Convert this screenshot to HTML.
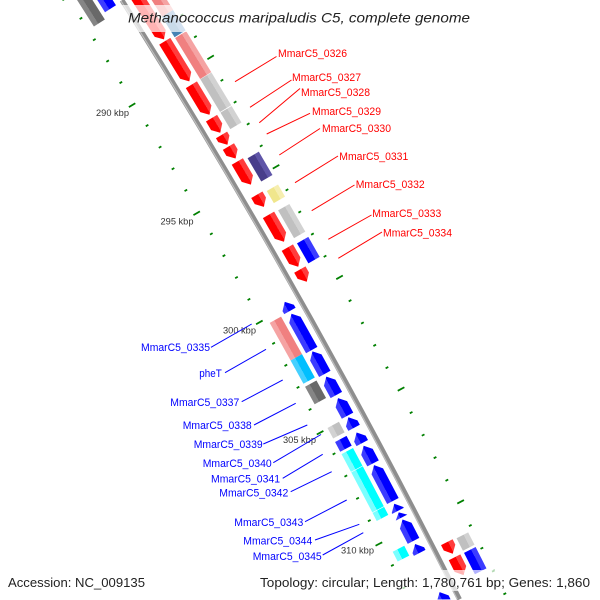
<!DOCTYPE html>
<html><head><meta charset="utf-8"><style>html,body{margin:0;padding:0;background:#fff;width:600px;height:600px;overflow:hidden}svg{display:block;overflow:hidden}</style></head>
<body>
<svg width="600" height="600" viewBox="0 0 600 600" xmlns="http://www.w3.org/2000/svg">
<defs>
<linearGradient id="fR" gradientUnits="userSpaceOnUse" x1="0" y1="-7204" x2="0" y2="-7191"><stop offset="0" stop-color="#ff3c3c"/><stop offset=".4" stop-color="#ff3c3c"/><stop offset=".4" stop-color="#f00"/><stop offset="1" stop-color="#f00"/></linearGradient>
<linearGradient id="rB" gradientUnits="userSpaceOnUse" x1="0" y1="-7162" x2="0" y2="-7175"><stop offset="0" stop-color="#3c3cff"/><stop offset=".4" stop-color="#3c3cff"/><stop offset=".4" stop-color="#00f"/><stop offset="1" stop-color="#00f"/></linearGradient>
<linearGradient id="oP" gradientUnits="userSpaceOnUse" x1="0" y1="-7221" x2="0" y2="-7208"><stop offset="0" stop-color="#f5a3a3"/><stop offset=".4" stop-color="#f5a3a3"/><stop offset=".4" stop-color="#f08080"/><stop offset="1" stop-color="#f08080"/></linearGradient>
<linearGradient id="oS" gradientUnits="userSpaceOnUse" x1="0" y1="-7221" x2="0" y2="-7208"><stop offset="0" stop-color="#6b9ccb"/><stop offset=".4" stop-color="#6b9ccb"/><stop offset=".4" stop-color="#4682b4"/><stop offset="1" stop-color="#4682b4"/></linearGradient>
<linearGradient id="oG" gradientUnits="userSpaceOnUse" x1="0" y1="-7221" x2="0" y2="-7208"><stop offset="0" stop-color="#d2d2d2"/><stop offset=".4" stop-color="#d2d2d2"/><stop offset=".4" stop-color="#c0c0c0"/><stop offset="1" stop-color="#c0c0c0"/></linearGradient>
<linearGradient id="oN" gradientUnits="userSpaceOnUse" x1="0" y1="-7221" x2="0" y2="-7208"><stop offset="0" stop-color="#5f55a8"/><stop offset=".4" stop-color="#5f55a8"/><stop offset=".4" stop-color="#483d8b"/><stop offset="1" stop-color="#483d8b"/></linearGradient>
<linearGradient id="oK" gradientUnits="userSpaceOnUse" x1="0" y1="-7221" x2="0" y2="-7208"><stop offset="0" stop-color="#f6eeb0"/><stop offset=".4" stop-color="#f6eeb0"/><stop offset=".4" stop-color="#f0e68c"/><stop offset="1" stop-color="#f0e68c"/></linearGradient>
<linearGradient id="oB" gradientUnits="userSpaceOnUse" x1="0" y1="-7221" x2="0" y2="-7208"><stop offset="0" stop-color="#3c3cff"/><stop offset=".4" stop-color="#3c3cff"/><stop offset=".4" stop-color="#00f"/><stop offset="1" stop-color="#00f"/></linearGradient>
<linearGradient id="iD" gradientUnits="userSpaceOnUse" x1="0" y1="-7145" x2="0" y2="-7158"><stop offset="0" stop-color="#858585"/><stop offset=".4" stop-color="#858585"/><stop offset=".4" stop-color="#696969"/><stop offset="1" stop-color="#696969"/></linearGradient>
<linearGradient id="iP" gradientUnits="userSpaceOnUse" x1="0" y1="-7145" x2="0" y2="-7158"><stop offset="0" stop-color="#f5a3a3"/><stop offset=".4" stop-color="#f5a3a3"/><stop offset=".4" stop-color="#f08080"/><stop offset="1" stop-color="#f08080"/></linearGradient>
<linearGradient id="iS" gradientUnits="userSpaceOnUse" x1="0" y1="-7145" x2="0" y2="-7158"><stop offset="0" stop-color="#45d0ff"/><stop offset=".4" stop-color="#45d0ff"/><stop offset=".4" stop-color="#00bfff"/><stop offset="1" stop-color="#00bfff"/></linearGradient>
<linearGradient id="iG" gradientUnits="userSpaceOnUse" x1="0" y1="-7145" x2="0" y2="-7158"><stop offset="0" stop-color="#d2d2d2"/><stop offset=".4" stop-color="#d2d2d2"/><stop offset=".4" stop-color="#c0c0c0"/><stop offset="1" stop-color="#c0c0c0"/></linearGradient>
<linearGradient id="iB" gradientUnits="userSpaceOnUse" x1="0" y1="-7145" x2="0" y2="-7158"><stop offset="0" stop-color="#3c3cff"/><stop offset=".4" stop-color="#3c3cff"/><stop offset=".4" stop-color="#00f"/><stop offset="1" stop-color="#00f"/></linearGradient>
<linearGradient id="iC" gradientUnits="userSpaceOnUse" x1="0" y1="-7145" x2="0" y2="-7158"><stop offset="0" stop-color="#7affff"/><stop offset=".4" stop-color="#7affff"/><stop offset=".4" stop-color="#00ffff"/><stop offset="1" stop-color="#00ffff"/></linearGradient>
</defs>
<rect width="600" height="600" fill="#fff"/>

<!-- backbone (screen-space arcs) -->
<path d="M121.98,0.2 A7183,7183 0 0 1 459.5,599.4" fill="none" stroke="#8e8e8e" stroke-width="5"/>
<path d="M120.9,0.8 A7181,7181 0 0 1 457.4,599.4" fill="none" stroke="#bdbdbd" stroke-width="1.2"/>

<!-- inner ticks -->
<g stroke="#008000" stroke-width="1.8" fill="none">
  <path d="M0-7140v7.5" transform="translate(-5960.8 3820.4) rotate(57.6159)"/>
  <path d="M0-7140v3" transform="translate(-5960.8 3820.4) rotate(57.8180)"/>
  <path d="M0-7140v3" transform="translate(-5960.8 3820.4) rotate(58.0202)"/>
  <path d="M0-7140v3" transform="translate(-5960.8 3820.4) rotate(58.2224)"/>
  <path d="M0-7140v3" transform="translate(-5960.8 3820.4) rotate(58.4245)"/>
  <path d="M0-7140v7.5" transform="translate(-5960.8 3820.4) rotate(58.6267)"/>
  <path d="M0-7140v3" transform="translate(-5960.8 3820.4) rotate(58.8288)"/>
  <path d="M0-7140v3" transform="translate(-5960.8 3820.4) rotate(59.0310)"/>
  <path d="M0-7140v3" transform="translate(-5960.8 3820.4) rotate(59.2332)"/>
  <path d="M0-7140v3" transform="translate(-5960.8 3820.4) rotate(59.4353)"/>
  <path d="M0-7140v7.5" transform="translate(-5960.8 3820.4) rotate(59.6375)"/>
  <path d="M0-7140v3" transform="translate(-5960.8 3820.4) rotate(59.8397)"/>
  <path d="M0-7140v3" transform="translate(-5960.8 3820.4) rotate(60.0418)"/>
  <path d="M0-7140v3" transform="translate(-5960.8 3820.4) rotate(60.2440)"/>
  <path d="M0-7140v3" transform="translate(-5960.8 3820.4) rotate(60.4461)"/>
  <path d="M0-7140v7.5" transform="translate(-5960.8 3820.4) rotate(60.6483)"/>
  <path d="M0-7140v3" transform="translate(-5960.8 3820.4) rotate(60.8505)"/>
  <path d="M0-7140v3" transform="translate(-5960.8 3820.4) rotate(61.0526)"/>
  <path d="M0-7140v3" transform="translate(-5960.8 3820.4) rotate(61.2548)"/>
  <path d="M0-7140v3" transform="translate(-5960.8 3820.4) rotate(61.4569)"/>
  <path d="M0-7140v7.5" transform="translate(-5960.8 3820.4) rotate(61.6591)"/>
  <path d="M0-7140v3" transform="translate(-5960.8 3820.4) rotate(61.8613)"/>
  <path d="M0-7140v3" transform="translate(-5960.8 3820.4) rotate(62.0634)"/>
  <path d="M0-7140v3" transform="translate(-5960.8 3820.4) rotate(62.2656)"/>
  <path d="M0-7140v3" transform="translate(-5960.8 3820.4) rotate(62.4678)"/>
  <path d="M0-7140v7.5" transform="translate(-5960.8 3820.4) rotate(62.6699)"/>
  <path d="M0-7140v3" transform="translate(-5960.8 3820.4) rotate(62.8721)"/>
  <path d="M0-7140v3" transform="translate(-5960.8 3820.4) rotate(63.0742)"/>
</g>
<!-- outer ticks -->
<g stroke="#008000" stroke-width="1.8" fill="none">
  <path d="M0-7224.5v-3" transform="translate(-5960.8 3820.4) rotate(58.2224)"/>
  <path d="M0-7224.5v-3" transform="translate(-5960.8 3820.4) rotate(58.4245)"/>
  <path d="M0-7224.5v-7.5" transform="translate(-5960.8 3820.4) rotate(58.6267)"/>
  <path d="M0-7224.5v-3" transform="translate(-5960.8 3820.4) rotate(58.8288)"/>
  <path d="M0-7224.5v-3" transform="translate(-5960.8 3820.4) rotate(59.0310)"/>
  <path d="M0-7224.5v-3" transform="translate(-5960.8 3820.4) rotate(59.2332)"/>
  <path d="M0-7224.5v-3" transform="translate(-5960.8 3820.4) rotate(59.4353)"/>
  <path d="M0-7224.5v-7.5" transform="translate(-5960.8 3820.4) rotate(59.6375)"/>
  <path d="M0-7224.5v-3" transform="translate(-5960.8 3820.4) rotate(59.8397)"/>
  <path d="M0-7224.5v-3" transform="translate(-5960.8 3820.4) rotate(60.0418)"/>
  <path d="M0-7224.5v-3" transform="translate(-5960.8 3820.4) rotate(60.2440)"/>
  <path d="M0-7224.5v-3" transform="translate(-5960.8 3820.4) rotate(60.4461)"/>
  <path d="M0-7224.5v-7.5" transform="translate(-5960.8 3820.4) rotate(60.6483)"/>
  <path d="M0-7224.5v-3" transform="translate(-5960.8 3820.4) rotate(60.8505)"/>
  <path d="M0-7224.5v-3" transform="translate(-5960.8 3820.4) rotate(61.0526)"/>
  <path d="M0-7224.5v-3" transform="translate(-5960.8 3820.4) rotate(61.2548)"/>
  <path d="M0-7224.5v-3" transform="translate(-5960.8 3820.4) rotate(61.4569)"/>
  <path d="M0-7224.5v-7.5" transform="translate(-5960.8 3820.4) rotate(61.6591)"/>
  <path d="M0-7224.5v-3" transform="translate(-5960.8 3820.4) rotate(61.8613)"/>
  <path d="M0-7224.5v-3" transform="translate(-5960.8 3820.4) rotate(62.0634)"/>
  <path d="M0-7224.5v-3" transform="translate(-5960.8 3820.4) rotate(62.2656)"/>
  <path d="M0-7224.5v-3" transform="translate(-5960.8 3820.4) rotate(62.4678)"/>
  <path d="M0-7224.5v-7.5" transform="translate(-5960.8 3820.4) rotate(62.6699)"/>
  <path d="M0-7224.5v-3" transform="translate(-5960.8 3820.4) rotate(62.8721)"/>
  <path d="M0-7224.5v-3" transform="translate(-5960.8 3820.4) rotate(63.0742)"/>
  <path d="M0-7224.5v-3" transform="translate(-5960.8 3820.4) rotate(63.2764)"/>
  <path d="M0-7224.5v-3" transform="translate(-5960.8 3820.4) rotate(63.4786)"/>
</g>

<!-- forward genes (red) -->
<g fill="url(#fR)">
  <polygon transform="translate(-5960.8 3820.4) rotate(57.7505)" points="-70.5,-7204 63.5,-7204 70.5,-7197.5 63.5,-7191 -70.5,-7191"/>
  <polygon transform="translate(-5960.8 3820.4) rotate(58.5147)" points="-23.5,-7204 16.5,-7204 23.5,-7197.5 16.5,-7191 -23.5,-7191"/>
  <polygon transform="translate(-5960.8 3820.4) rotate(58.8730)" points="-17.5,-7204 10.5,-7204 17.5,-7197.5 10.5,-7191 -17.5,-7191"/>
  <polygon transform="translate(-5960.8 3820.4) rotate(59.1118)" points="-8.5,-7204 1.5,-7204 8.5,-7197.5 1.5,-7191 -8.5,-7191"/>
  <polygon transform="translate(-5960.8 3820.4) rotate(59.2452)" points="-5.75,-7204 -1.25,-7204 5.75,-7197.5 -1.25,-7191 -5.75,-7191"/>
  <polygon transform="translate(-5960.8 3820.4) rotate(59.3626)" points="-7,-7204 0,-7204 7,-7197.5 0,-7191 -7,-7191"/>
  <polygon transform="translate(-5960.8 3820.4) rotate(59.5521)" points="-13.4,-7204 6.4,-7204 13.4,-7197.5 6.4,-7191 -13.4,-7191"/>
  <polygon transform="translate(-5960.8 3820.4) rotate(59.8084)" points="-7,-7204 0,-7204 7,-7197.5 0,-7191 -7,-7191"/>
  <polygon transform="translate(-5960.8 3820.4) rotate(60.0608)" points="-15.5,-7204 8.5,-7204 15.5,-7197.5 8.5,-7191 -15.5,-7191"/>
  <polygon transform="translate(-5960.8 3820.4) rotate(60.3259)" points="-11,-7204 4,-7204 11,-7197.5 4,-7191 -11,-7191"/>
  <polygon transform="translate(-5960.8 3820.4) rotate(60.4954)" points="-7,-7204 0,-7204 7,-7197.5 0,-7191 -7,-7191"/>
  <polygon transform="translate(-5960.8 3820.4) rotate(62.9570)" points="-6.5,-7204 -0.5,-7204 6.5,-7197.5 -0.5,-7191 -6.5,-7191"/>
  <polygon transform="translate(-5960.8 3820.4) rotate(63.1202)" points="-10,-7204 3,-7204 10,-7197.5 3,-7191 -10,-7191"/>
</g>

<!-- reverse genes (blue) -->
<g fill="url(#rB)">
  <polygon transform="translate(-5960.8 3820.4) rotate(57.5270)" points="44,-7175 -37,-7175 -44,-7168.5 -37,-7162 44,-7162"/>
  <polygon transform="translate(-5960.8 3820.4) rotate(60.6463)" points="5.25,-7175 1.75,-7175 -5.25,-7168.5 1.75,-7162 5.25,-7162"/>
  <polygon transform="translate(-5960.8 3820.4) rotate(60.8801)" points="20.8,-7175 -13.8,-7175 -20.8,-7168.5 -13.8,-7162 20.8,-7162"/>
  <polygon transform="translate(-5960.8 3820.4) rotate(61.1607)" points="12.8,-7175 -5.8,-7175 -12.8,-7168.5 -5.8,-7162 12.8,-7162"/>
  <polygon transform="translate(-5960.8 3820.4) rotate(61.3717)" points="10.5,-7175 -3.5,-7175 -10.5,-7168.5 -3.5,-7162 10.5,-7162"/>
  <polygon transform="translate(-5960.8 3820.4) rotate(61.5635)" points="10,-7175 -3,-7175 -10,-7168.5 -3,-7162 10,-7162"/>
  <polygon transform="translate(-5960.8 3820.4) rotate(61.7058)" points="6,-7175 1,-7175 -6,-7168.5 1,-7162 6,-7162"/>
  <polygon transform="translate(-5960.8 3820.4) rotate(61.8441)" points="6,-7175 1,-7175 -6,-7168.5 1,-7162 6,-7162"/>
  <polygon transform="translate(-5960.8 3820.4) rotate(61.9960)" points="10,-7175 -3,-7175 -10,-7168.5 -3,-7162 10,-7162"/>
  <polygon transform="translate(-5960.8 3820.4) rotate(62.2541)" points="20.25,-7175 -13.25,-7175 -20.25,-7168.5 -13.25,-7162 20.25,-7162"/>
  <polygon transform="translate(-5960.8 3820.4) rotate(62.4724)" points="4,-7175 3,-7175 -4,-7168.5 3,-7162 4,-7162"/>
  <polygon transform="translate(-5960.8 3820.4) rotate(62.5419)" points="3,-7175 -3,-7168.5 3,-7162"/>
  <polygon transform="translate(-5960.8 3820.4) rotate(62.6786)" points="12,-7175 -5,-7175 -12,-7168.5 -5,-7162 12,-7162"/>
  <polygon transform="translate(-5960.8 3820.4) rotate(62.8425)" points="5,-7175 2,-7175 -5,-7168.5 2,-7162 5,-7162"/>
  <polygon transform="translate(-5960.8 3820.4) rotate(63.2341)" points="0,-7168.5 7,-7175 11.5,-7175 5.64,-7163.26"/>
</g>

<!-- outer feature ring -->
<rect transform="translate(-5960.8 3820.4) rotate(57.6739)" x="-60" y="-7221" width="120" height="13" fill="url(#oP)"/>
<rect transform="translate(-5960.8 3820.4) rotate(58.2458)" x="-12" y="-7221" width="24" height="13" fill="url(#oS)"/>
<rect transform="translate(-5960.8 3820.4) rotate(58.5396)" x="-24" y="-7221" width="48" height="13" fill="url(#oP)"/>
<rect transform="translate(-5960.8 3820.4) rotate(58.8851)" x="-19.1" y="-7221" width="38.2" height="13" fill="url(#oG)"/>
<rect transform="translate(-5960.8 3820.4) rotate(59.1194)" x="-9.6" y="-7221" width="19.2" height="13" fill="url(#oG)"/>
<rect transform="translate(-5960.8 3820.4) rotate(59.5721)" x="-13.5" y="-7221" width="27" height="13" fill="url(#oN)"/>
<rect transform="translate(-5960.8 3820.4) rotate(59.8223)" x="-7" y="-7221" width="14" height="13" fill="url(#oK)"/>
<rect transform="translate(-5960.8 3820.4) rotate(60.0725)" x="-16" y="-7221" width="32" height="13" fill="url(#oG)"/>
<rect transform="translate(-5960.8 3820.4) rotate(60.3385)" x="-11.5" y="-7221" width="23" height="13" fill="url(#oB)"/>
<rect transform="translate(-5960.8 3820.4) rotate(62.9682)" x="-7" y="-7221" width="14" height="13" fill="url(#oG)"/>
<rect transform="translate(-5960.8 3820.4) rotate(63.1382)" x="-12" y="-7221" width="24" height="13" fill="url(#oB)"/>

<!-- inner feature ring -->
<rect transform="translate(-5960.8 3820.4) rotate(57.5475)" x="-47.5" y="-7158" width="95" height="13" fill="url(#iD)"/>
<rect transform="translate(-5960.8 3820.4) rotate(60.8646)" x="-21.5" y="-7158" width="43" height="13" fill="url(#iP)"/>
<rect transform="translate(-5960.8 3820.4) rotate(61.1435)" x="-13.3" y="-7158" width="26.6" height="13" fill="url(#iS)"/>
<rect transform="translate(-5960.8 3820.4) rotate(61.3574)" x="-10" y="-7158" width="20" height="13" fill="url(#iD)"/>
<rect transform="translate(-5960.8 3820.4) rotate(61.7019)" x="-6" y="-7158" width="12" height="13" fill="url(#iG)"/>
<rect transform="translate(-5960.8 3820.4) rotate(61.8261)" x="-5.5" y="-7158" width="11" height="13" fill="url(#iB)"/>
<rect transform="translate(-5960.8 3820.4) rotate(61.9723)" x="-10.05" y="-7158" width="20.1" height="13" fill="url(#iC)"/>
<rect transform="translate(-5960.8 3820.4) rotate(62.2387)" x="-22.6" y="-7158" width="45.2" height="13" fill="url(#iC)"/>
<rect transform="translate(-5960.8 3820.4) rotate(62.4611)" x="-4.55" y="-7158" width="9.1" height="13" fill="url(#iC)"/>
<rect transform="translate(-5960.8 3820.4) rotate(62.8196)" x="-5.5" y="-7158" width="11" height="13" fill="url(#iC)"/>

<!-- tick labels -->
<g font-family="Liberation Sans, DejaVu Sans, sans-serif" font-size="9.5" fill="#333">
  <text x="96" y="116.2" textLength="33" lengthAdjust="spacingAndGlyphs">290 kbp</text>
  <text x="160.5" y="224.5" textLength="33" lengthAdjust="spacingAndGlyphs">295 kbp</text>
  <text x="223" y="333.5" textLength="33" lengthAdjust="spacingAndGlyphs">300 kbp</text>
  <text x="283" y="442.8" textLength="33" lengthAdjust="spacingAndGlyphs">305 kbp</text>
  <text x="341" y="553.5" textLength="33" lengthAdjust="spacingAndGlyphs">310 kbp</text>
</g>

<!-- red label lines -->
<g stroke="#f00" stroke-width="1" fill="none">
  <line x1="276.5" y1="56.5" x2="235" y2="81.7"/>
  <line x1="291.5" y1="80" x2="250" y2="107.3"/>
  <line x1="300" y1="88.5" x2="259.3" y2="122.7"/>
  <line x1="310" y1="113.3" x2="266.7" y2="134"/>
  <line x1="320" y1="128.5" x2="279.3" y2="155"/>
  <line x1="338" y1="156" x2="295" y2="182.7"/>
  <line x1="354.5" y1="185" x2="311.7" y2="210.7"/>
  <line x1="371.5" y1="215" x2="328.3" y2="239.3"/>
  <line x1="382" y1="232" x2="338.3" y2="258.3"/>
</g>
<g font-family="Liberation Sans, DejaVu Sans, sans-serif" font-size="11" fill="#f00">
  <text x="278" y="57.2" textLength="69" lengthAdjust="spacingAndGlyphs">MmarC5_0326</text>
  <text x="292" y="81.1" textLength="69" lengthAdjust="spacingAndGlyphs">MmarC5_0327</text>
  <text x="301" y="95.9" textLength="69" lengthAdjust="spacingAndGlyphs">MmarC5_0328</text>
  <text x="312" y="114.9" textLength="69" lengthAdjust="spacingAndGlyphs">MmarC5_0329</text>
  <text x="322" y="131.9" textLength="69" lengthAdjust="spacingAndGlyphs">MmarC5_0330</text>
  <text x="339.3" y="159.9" textLength="69" lengthAdjust="spacingAndGlyphs">MmarC5_0331</text>
  <text x="355.7" y="187.9" textLength="69" lengthAdjust="spacingAndGlyphs">MmarC5_0332</text>
  <text x="372.3" y="216.9" textLength="69" lengthAdjust="spacingAndGlyphs">MmarC5_0333</text>
  <text x="383" y="236.4" textLength="69" lengthAdjust="spacingAndGlyphs">MmarC5_0334</text>
</g>

<!-- blue label lines -->
<g stroke="#00f" stroke-width="1" fill="none">
  <line x1="211" y1="347.3" x2="251.7" y2="324"/>
  <line x1="225" y1="372.7" x2="266" y2="349.3"/>
  <line x1="241.7" y1="401.7" x2="282.7" y2="380"/>
  <line x1="254" y1="425" x2="295.7" y2="403.3"/>
  <line x1="263.3" y1="444" x2="307.3" y2="425"/>
  <line x1="273.3" y1="462.7" x2="321" y2="434.5"/>
  <line x1="282.7" y1="478.3" x2="322.7" y2="454.3"/>
  <line x1="290.7" y1="491.7" x2="331.7" y2="471.7"/>
  <line x1="305" y1="521.7" x2="346.7" y2="500"/>
  <line x1="315" y1="540" x2="359.3" y2="524.3"/>
  <line x1="322.7" y1="555" x2="363.3" y2="532.7"/>
</g>
<g font-family="Liberation Sans, DejaVu Sans, sans-serif" font-size="11" fill="#00f">
  <text x="141" y="350.9" textLength="69" lengthAdjust="spacingAndGlyphs">MmarC5_0335</text>
  <text x="199.3" y="377" textLength="22.5" lengthAdjust="spacingAndGlyphs">pheT</text>
  <text x="170.3" y="405.9" textLength="69" lengthAdjust="spacingAndGlyphs">MmarC5_0337</text>
  <text x="182.7" y="428.9" textLength="69" lengthAdjust="spacingAndGlyphs">MmarC5_0338</text>
  <text x="193.7" y="447.9" textLength="69" lengthAdjust="spacingAndGlyphs">MmarC5_0339</text>
  <text x="202.7" y="466.9" textLength="69" lengthAdjust="spacingAndGlyphs">MmarC5_0340</text>
  <text x="211" y="482.6" textLength="69" lengthAdjust="spacingAndGlyphs">MmarC5_0341</text>
  <text x="219.3" y="496.7" textLength="69" lengthAdjust="spacingAndGlyphs">MmarC5_0342</text>
  <text x="234.3" y="525.9" textLength="69" lengthAdjust="spacingAndGlyphs">MmarC5_0343</text>
  <text x="243.3" y="544.6" textLength="69" lengthAdjust="spacingAndGlyphs">MmarC5_0344</text>
  <text x="252.7" y="559.9" textLength="69" lengthAdjust="spacingAndGlyphs">MmarC5_0345</text>
</g>

<!-- title -->
<rect x="121" y="5" width="356" height="27" fill="#fff" fill-opacity="0.7"/>
<text x="128" y="22.7" font-family="Liberation Sans, DejaVu Sans, sans-serif" font-style="italic" font-size="14" fill="#222" textLength="342" lengthAdjust="spacingAndGlyphs">Methanococcus maripaludis C5, complete genome</text>

<!-- bottom legends -->
<rect x="3" y="570" width="148" height="21" fill="#fff" fill-opacity="0.7"/>
<rect x="255" y="570" width="340" height="21" fill="#fff" fill-opacity="0.7"/>
<g font-family="Liberation Sans, DejaVu Sans, sans-serif" font-size="13" fill="#222">
  <text x="8" y="587" textLength="137" lengthAdjust="spacingAndGlyphs">Accession: NC_009135</text>
  <text x="260" y="587" textLength="330" lengthAdjust="spacingAndGlyphs">Topology: circular; Length: 1,780,761 bp; Genes: 1,860</text>
</g>
</svg>
</body></html>
